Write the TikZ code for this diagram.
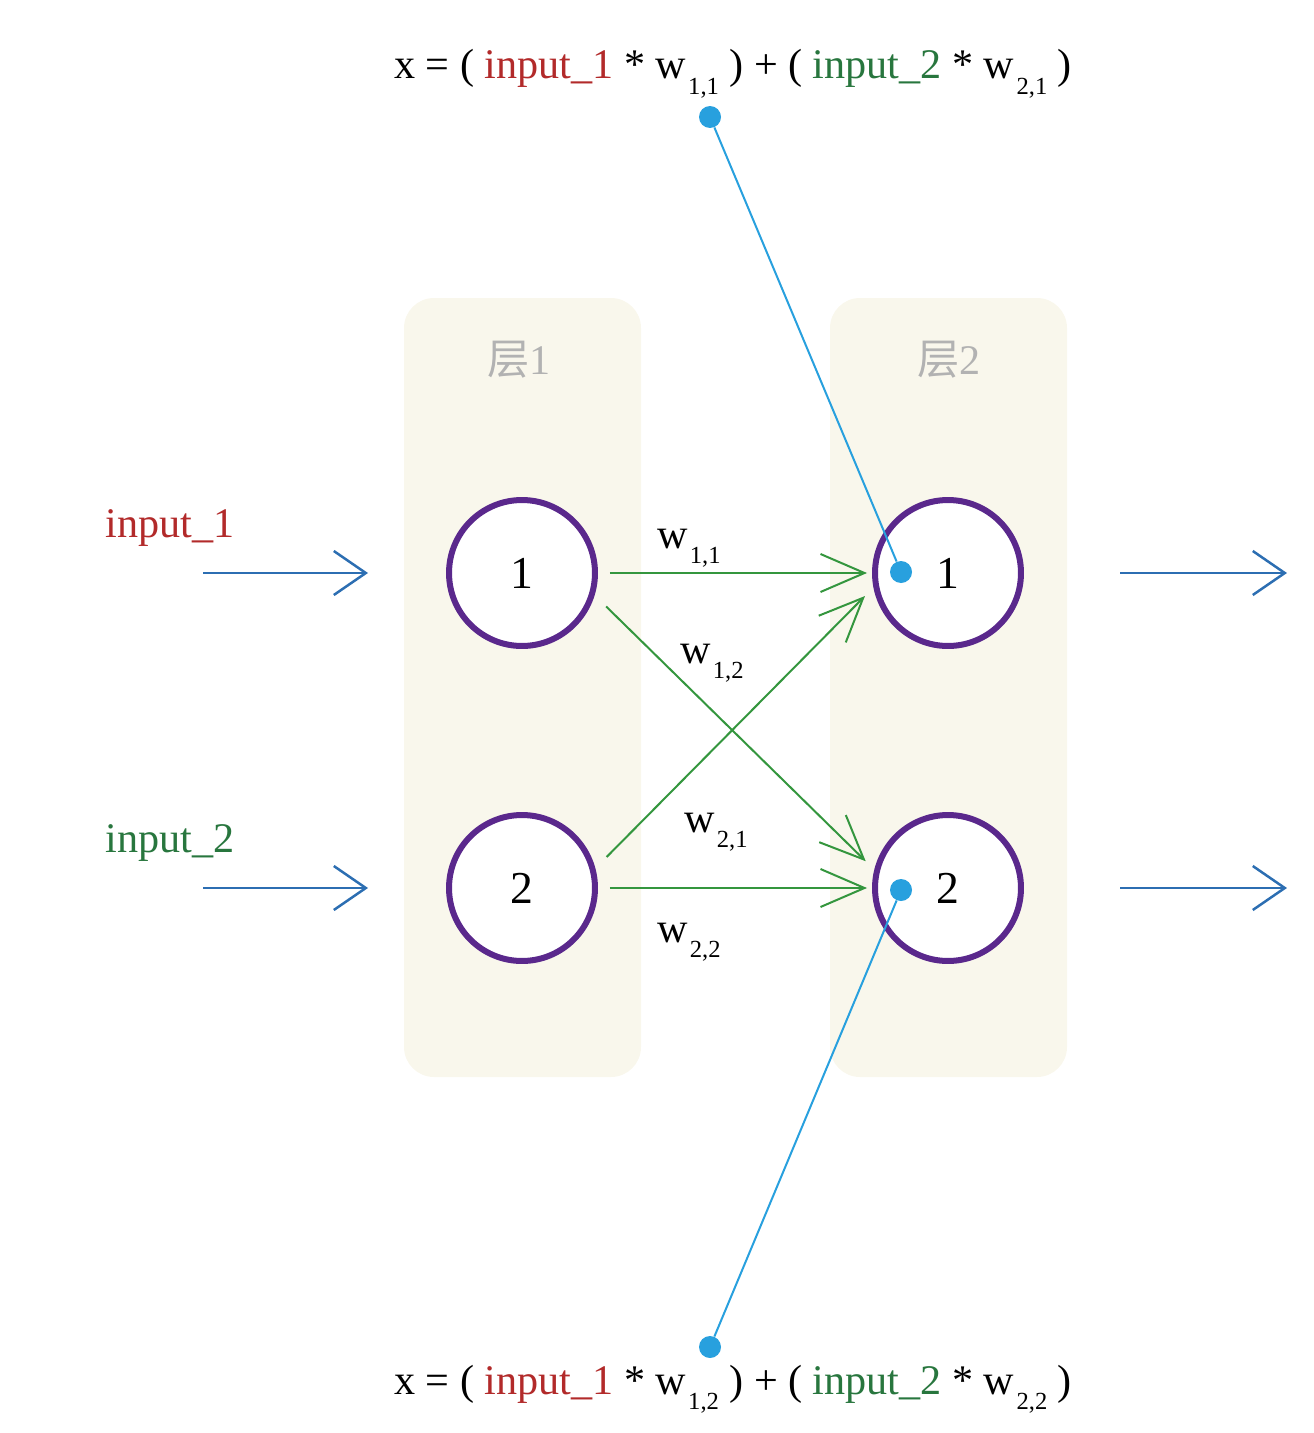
\documentclass[tikz,border=0pt]{standalone}
\usepackage{fontspec}
\setmainfont{Liberation Serif}
\newfontfamily\cjk{Noto Sans CJK SC}
\usetikzlibrary{positioning, calc, arrows.meta}

\definecolor{layerbg}{RGB}{249,247,236}
\definecolor{nodepurple}{RGB}{90,40,140}
\definecolor{inred}{RGB}{178,42,42}
\definecolor{ingreen}{RGB}{40,118,62}
\definecolor{wgreen}{RGB}{52,150,62}
\definecolor{arrowblue}{RGB}{44,110,178}
\definecolor{dotblue}{RGB}{40,160,222}
\definecolor{labelgray}{RGB}{178,178,178}

\newcommand{\wsub}[1]{\kern0.05em\raisebox{-0.8ex}{\fontsize{14}{14}\selectfont #1}}

\begin{document}
\begin{tikzpicture}[x=0.02cm, y=-0.02cm,
    every node/.style={font=\fontsize{24}{28}\selectfont},
    layer/.style={fill=layerbg, rounded corners=0.6cm},
    neuron/.style={circle, draw=nodepurple, line width=0.12cm, fill=white,
        minimum size=2.92cm, inner sep=0pt, font=\fontsize{26}{30}\selectfont},
    signal/.style={arrowblue, line width=0.05cm,
        -{Straight Barb[length=0.64cm, width=0.88cm, line width=0.05cm]}},
    wire/.style={wgreen, line width=0.04cm,
        -{Straight Barb[length=0.88cm, width=0.76cm, line width=0.04cm]}},
    probe/.style={circle, fill=dotblue, inner sep=0pt, minimum size=0.44cm},
    link/.style={dotblue, line width=0.04cm}]
    \useasboundingbox (0,0) rectangle (1313,1433);

    % the two layers
    \fill[layer] (404,298) rectangle (641,1077);
    \fill[layer] (830,298) rectangle (1067,1077);
    \node[labelgray] (lab1) at (519,360) {{\cjk 层}1};
    \node[labelgray] (lab2) at (949,360) {{\cjk 层}2};

    % neurons
    \node[neuron] (n11) at (522,573) {1};
    \node[neuron] (n12) at (522,888) {2};
    \node[neuron] (n21) at (948,573) {1};
    \node[neuron] (n22) at (948,888) {2};

    % inputs and outputs
    \node[inred] (in1) at (170,528) {input\_1};
    \node[ingreen] (in2) at (170,843) {input\_2};
    \coordinate (s1) at (203,573);
    \coordinate (s2) at (203,888);
    \draw[signal] (s1) -- ($(n11.west)+(-78,0)$);
    \draw[signal] (s2) -- ($(n12.west)+(-78,0)$);
    \draw[signal] ($(n21.east)+(96,0)$) -- ++(167,0);
    \draw[signal] ($(n22.east)+(96,0)$) -- ++(167,0);

    % weighted links
    \draw[wire, shorten <=0.24cm, shorten >=0.1cm] (n11.east) -- (n21.west);
    \draw[wire, shorten <=0.32cm, shorten >=0.24cm] (n11.-17) -- (n22.166);
    \draw[wire, shorten <=0.32cm, shorten >=0.24cm] (n12.15) -- (n21.-169);
    \draw[wire, shorten <=0.24cm, shorten >=0.1cm] (n12.east) -- (n22.west);
    \node[anchor=base west, inner sep=0pt] (w11) at (657,548) {w\wsub{1,1}};
    \node[anchor=base west, inner sep=0pt] (w12) at (680,663) {w\wsub{1,2}};
    \node[anchor=base west, inner sep=0pt] (w21) at (684,832) {w\wsub{2,1}};
    \node[anchor=base west, inner sep=0pt] (w22) at (657,942) {w\wsub{2,2}};

    % sums feeding layer 2
    \node[anchor=base] (sum1) at (733,79) {x = ( {\color{inred}input\_1} * w\wsub{1,1} ) + ( {\color{ingreen}input\_2} * w\wsub{2,1} )};
    \node[anchor=base] (sum2) at (733,1394) {x = ( {\color{inred}input\_1} * w\wsub{1,2} ) + ( {\color{ingreen}input\_2} * w\wsub{2,2} )};
    \node[probe] (p1) at (710,117) {};
    \node[probe] (p2) at (710,1347) {};
    \node[probe] (q1) at (901,572) {};
    \node[probe] (q2) at (901,890) {};
    \draw[link] (p1) -- (q1);
    \draw[link] (p2) -- (q2);
\end{tikzpicture}
\end{document}
